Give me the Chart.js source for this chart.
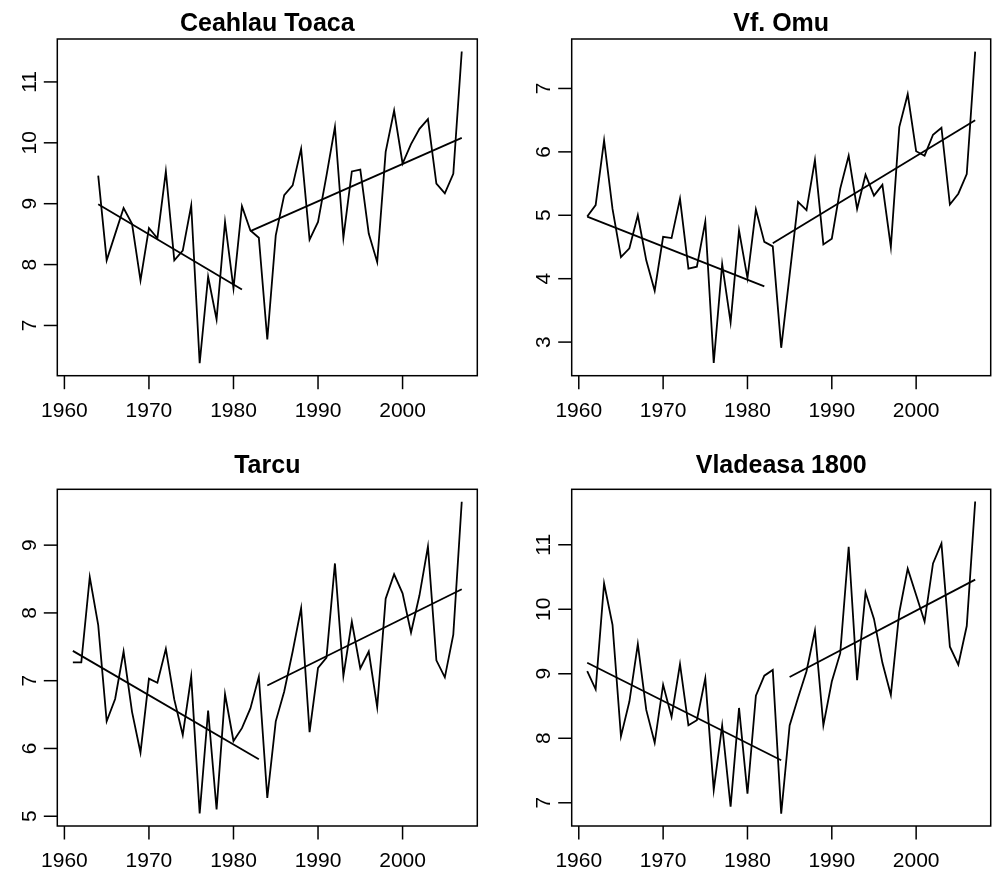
<!DOCTYPE html>
<html>
<head>
<meta charset="utf-8">
<script src="https://cdn.jsdelivr.net/npm/chart.js@4"></script>
<style>
  html, body { margin: 0; padding: 0; background: #fff; }
  #wrap { position: relative; width: 993px; height: 881px; background: #fff; }
  canvas { position: absolute; }
</style>
</head>
<body>
<div id="wrap">
  <canvas id="c1" width="496" height="440" style="left:0px;top:0px;width:496px;height:440px"></canvas>
  <canvas id="c2" width="497" height="440" style="left:496px;top:0px;width:497px;height:440px"></canvas>
  <canvas id="c3" width="496" height="441" style="left:0px;top:440px;width:496px;height:441px"></canvas>
  <canvas id="c4" width="497" height="441" style="left:496px;top:440px;width:497px;height:441px"></canvas>
</div>
<script>
// ---------- data ----------
const titles = ["Ceahlau Toaca", "Vf. Omu", "Tarcu", "Vladeasa 1800"];

const yearsCeahlau = Array.from({length: 44}, (_, i) => 1964 + i);
const yearsOther = Array.from({length: 47}, (_, i) => 1961 + i);

const ceahlauValues = [9.46, 8.07, 8.50, 8.93, 8.67, 7.74, 8.60, 8.43, 9.53, 8.07,
  8.23, 8.97, 6.38, 7.80, 7.10, 8.70, 7.61, 8.96, 8.56, 8.44,
  6.77, 8.48, 9.14, 9.30, 9.90, 8.41, 8.70, 9.46, 10.26, 8.44,
  9.53, 9.56, 8.51, 8.04, 9.85, 10.53, 9.66, 9.98, 10.23, 10.39,
  9.33, 9.17, 9.49, 11.50];

const omuValues = [4.98, 5.16, 6.18, 5.10, 4.34, 4.48, 5.00, 4.29, 3.81, 4.66,
  4.64, 5.26, 4.16, 4.19, 4.90, 2.67, 4.23, 3.31, 4.76, 4.01,
  5.09, 4.58, 4.51, 2.91, 4.06, 5.21, 5.08, 5.87, 4.54, 4.63,
  5.42, 5.94, 5.10, 5.64, 5.31, 5.48, 4.50, 6.39, 6.91, 6.01,
  5.94, 6.27, 6.38, 5.17, 5.34, 5.65, 7.58];

const tarcuValues = [7.27, 7.27, 8.53, 7.82, 6.40, 6.73, 7.43, 6.54, 5.94, 7.03,
  6.97, 7.47, 6.72, 6.20, 7.06, 5.04, 6.56, 5.10, 6.80, 6.11,
  6.30, 6.59, 7.06, 5.27, 6.40, 6.84, 7.43, 8.07, 6.24, 7.19,
  7.34, 8.73, 7.07, 7.87, 7.18, 7.43, 6.61, 8.21, 8.57, 8.29,
  7.71, 8.26, 8.98, 7.30, 7.05, 7.68, 9.64];

const vladeasaValues = [9.04, 8.76, 10.40, 9.76, 8.03, 8.57, 9.46, 8.44, 7.93, 8.83,
  8.33, 9.15, 8.20, 8.28, 8.93, 7.20, 8.20, 6.94, 8.47, 7.14,
  8.66, 8.97, 9.06, 6.83, 8.20, 8.63, 9.04, 9.67, 8.20, 8.88,
  9.32, 10.97, 8.90, 10.26, 9.85, 9.17, 8.67, 9.95, 10.63, 10.22,
  9.81, 10.71, 11.02, 9.42, 9.14, 9.74, 11.67];

// trend segments: [startYear, startValue, endYear, endValue]
const ceahlauTrend1 = [1964, 8.99, 1981, 7.59];
const ceahlauTrend2 = [1982, 8.55, 2007, 10.08];
const omuTrend1 = [1961, 4.98, 1982, 3.88];
const omuTrend2 = [1983, 4.56, 2007, 6.50];
const tarcuTrend1 = [1961, 7.44, 1983, 5.84];
const tarcuTrend2 = [1984, 6.93, 2007, 8.35];
const vladeasaTrend1 = [1961, 9.17, 1984, 7.66];
const vladeasaTrend2 = [1985, 8.95, 2007, 10.46];

// tick labels
const xTickLabels = [1960, 1970, 1980, 1990, 2000];
const ceahlauYTicks = [7, 8, 9, 10, 11];
const omuYTicks = [3, 4, 5, 6, 7];
const tarcuYTicks = [5, 6, 7, 8, 9];
const vladeasaYTicks = [7, 8, 9, 10, 11];

// axis ranges
const xRange = [1959.16, 2008.84];
const ceahlauYRange = [6.175, 11.705];
const omuYRange = [2.47, 7.78];
const tarcuYRange = [4.856, 9.824];
const vladeasaYRange = [6.64, 11.86];

// ---------- drawing ----------
const FONT = '"Liberation Sans", Arial, Helvetica, sans-serif';

const rStylePlugin = {
  id: 'rStyle',
  afterDraw(chart, args, opts) {
    const ctx = chart.ctx;
    const a = chart.chartArea;
    const xs = chart.scales.x, ys = chart.scales.y;
    ctx.save();
    ctx.strokeStyle = '#000';
    ctx.fillStyle = '#000';
    ctx.lineWidth = 1.5;
    ctx.strokeRect(a.left, a.top, a.right - a.left, a.bottom - a.top);

    ctx.font = '21px ' + FONT;
    ctx.textAlign = 'center';
    ctx.textBaseline = 'alphabetic';
    opts.xTicks.forEach(v => {
      const px = xs.getPixelForValue(v);
      ctx.beginPath();
      ctx.moveTo(px, a.bottom);
      ctx.lineTo(px, a.bottom + 13.5);
      ctx.stroke();
      ctx.fillText(String(v), px, a.bottom + 41);
    });
    opts.yTicks.forEach(v => {
      const py = ys.getPixelForValue(v);
      ctx.beginPath();
      ctx.moveTo(a.left - 13.5, py);
      ctx.lineTo(a.left, py);
      ctx.stroke();
      ctx.save();
      ctx.translate(a.left - 21.5, py);
      ctx.rotate(-Math.PI / 2);
      ctx.fillText(String(v), 0, 0);
      ctx.restore();
    });

    ctx.font = 'bold 25px ' + FONT;
    ctx.fillText(opts.title, (a.left + a.right) / 2, opts.titleBaseline);
    ctx.restore();
  }
};

function seriesPoints(years, values) {
  return years.map((yr, i) => ({x: yr, y: values[i]}));
}
function trendPoints(t) {
  return [{x: t[0], y: t[1]}, {x: t[2], y: t[3]}];
}

function makePanel(canvasId, title, years, values, trendA, trendB, yTicks, yRange, area, titleBaseline) {
  const cv = document.getElementById(canvasId);
  const W = cv.width, H = cv.height;
  const lineStyle = {
    borderColor: '#000', borderWidth: 1.8, pointRadius: 0, pointHoverRadius: 0,
    fill: false, tension: 0, showLine: true
  };
  new Chart(cv, {
    type: 'line',
    data: {
      datasets: [
        Object.assign({data: seriesPoints(years, values)}, lineStyle),
        Object.assign({data: trendPoints(trendA)}, lineStyle),
        Object.assign({data: trendPoints(trendB)}, lineStyle)
      ]
    },
    options: {
      responsive: false,
      animation: false,
      devicePixelRatio: 1,
      events: [],
      parsing: true,
      layout: {
        padding: {left: area.left, top: area.top, right: W - area.right, bottom: H - area.bottom}
      },
      scales: {
        x: {type: 'linear', display: false, min: xRange[0], max: xRange[1]},
        y: {type: 'linear', display: false, min: yRange[0], max: yRange[1]}
      },
      plugins: {
        legend: {display: false},
        tooltip: {enabled: false},
        title: {display: false},
        rStyle: {title: title, titleBaseline: titleBaseline, xTicks: xTickLabels, yTicks: yTicks}
      }
    },
    plugins: [rStylePlugin]
  });
}

makePanel('c1', titles[0], yearsCeahlau, ceahlauValues, ceahlauTrend1, ceahlauTrend2,
  ceahlauYTicks, ceahlauYRange, {left: 57.3, top: 39, right: 477.3, bottom: 375.7}, 30.7);
makePanel('c2', titles[1], yearsOther, omuValues, omuTrend1, omuTrend2,
  omuYTicks, omuYRange, {left: 75.7, top: 39, right: 494.7, bottom: 375.7}, 30.7);
makePanel('c3', titles[2], yearsOther, tarcuValues, tarcuTrend1, tarcuTrend2,
  tarcuYTicks, tarcuYRange, {left: 57.3, top: 49.3, right: 477.3, bottom: 386}, 33.3);
makePanel('c4', titles[3], yearsOther, vladeasaValues, vladeasaTrend1, vladeasaTrend2,
  vladeasaYTicks, vladeasaYRange, {left: 75.7, top: 49.3, right: 494.7, bottom: 386}, 33.3);
</script>
</body>
</html>
